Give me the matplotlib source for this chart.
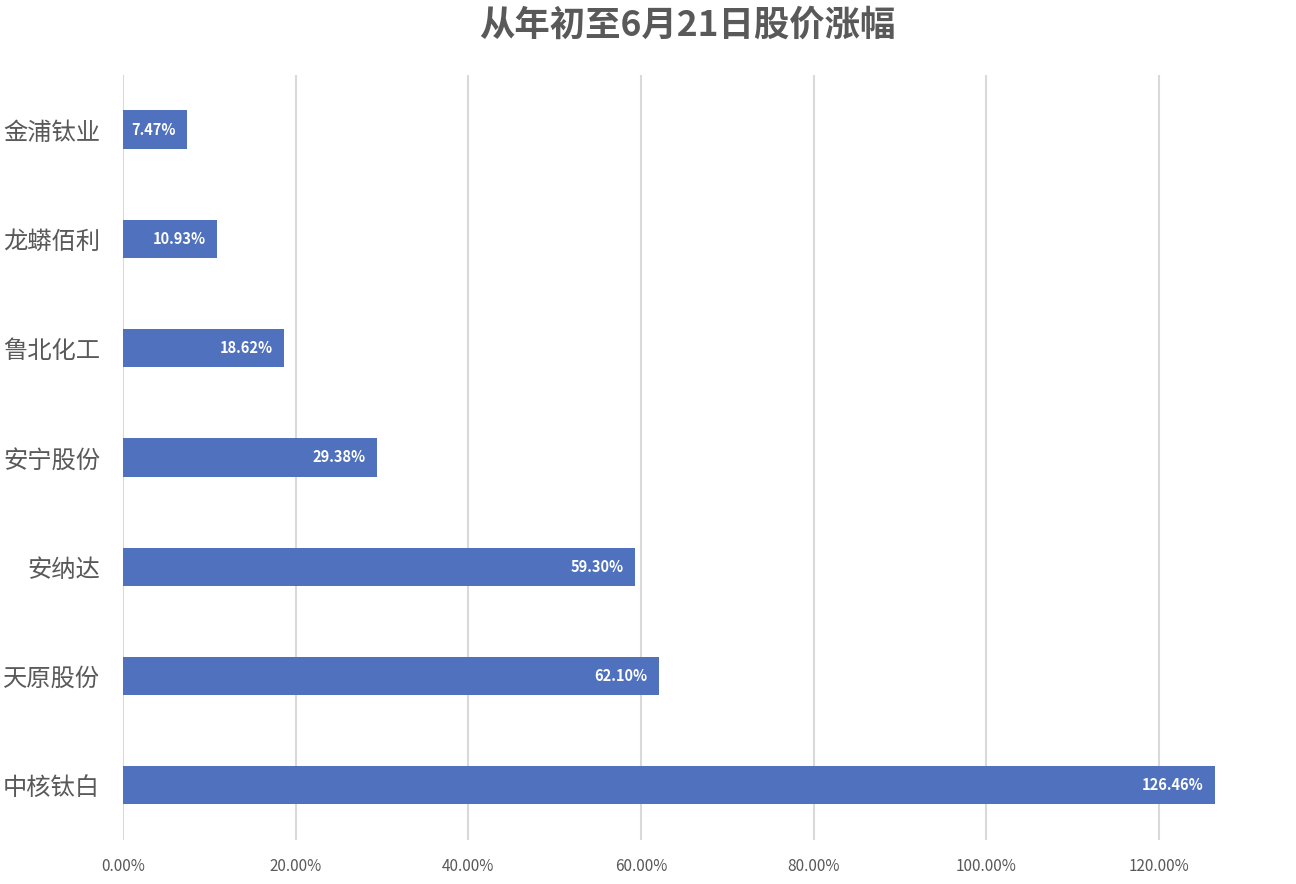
import matplotlib
matplotlib.use("Agg")
import matplotlib.pyplot as plt
from matplotlib.ticker import FuncFormatter, MultipleLocator

plt.rcParams['font.family'] = ['Noto Sans CJK SC', 'DejaVu Sans']

# data (top to bottom as in the picture)
companies = ["金浦钛业", "龙蟒佰利", "鲁北化工", "安宁股份", "安纳达", "天原股份", "中核钛白"]
gains = [7.47, 10.93, 18.62, 29.38, 59.30, 62.10, 126.46]

BAR_COLOR = "#4F71BE"
TEXT_COLOR = "#595959"

fig = plt.figure(figsize=(12.96, 8.84), dpi=100)
ax = fig.add_axes([0.0949, 0.0498, 0.9051, 0.8654])

ypos = list(range(len(companies)))[::-1]
bars = ax.barh(ypos, gains, height=0.35, color=BAR_COLOR, zorder=3)

for y, v in zip(ypos, gains):
    ax.text(v - 1.3, y, f"{v:.2f}%", ha="right", va="center",
            color="white", fontsize=10.5, fontweight="bold", zorder=4)

ax.set_xlim(0, 135.9)
ax.set_ylim(-0.5, len(companies) - 0.5)
ax.xaxis.set_major_locator(MultipleLocator(20))
ax.xaxis.set_major_formatter(FuncFormatter(lambda x, p: f"{x:.2f}%" if x <= 120 else ""))
ax.set_yticks(ypos)
ax.set_yticklabels(companies, fontsize=17.5, color=TEXT_COLOR)
ax.tick_params(axis="x", labelsize=11, colors=TEXT_COLOR, length=0, pad=13)
ax.tick_params(axis="y", length=0, pad=16.5)

ax.grid(axis="x", color="#D9D9D9", linewidth=1.5, zorder=0)
for s in ax.spines.values():
    s.set_visible(False)

fig.text(0.530, 0.972, "从年初至6月21日股价涨幅", ha="center", va="center",
         fontsize=25.5, fontweight="bold", color=TEXT_COLOR)

fig.savefig("out.png", dpi=100, facecolor="white")
